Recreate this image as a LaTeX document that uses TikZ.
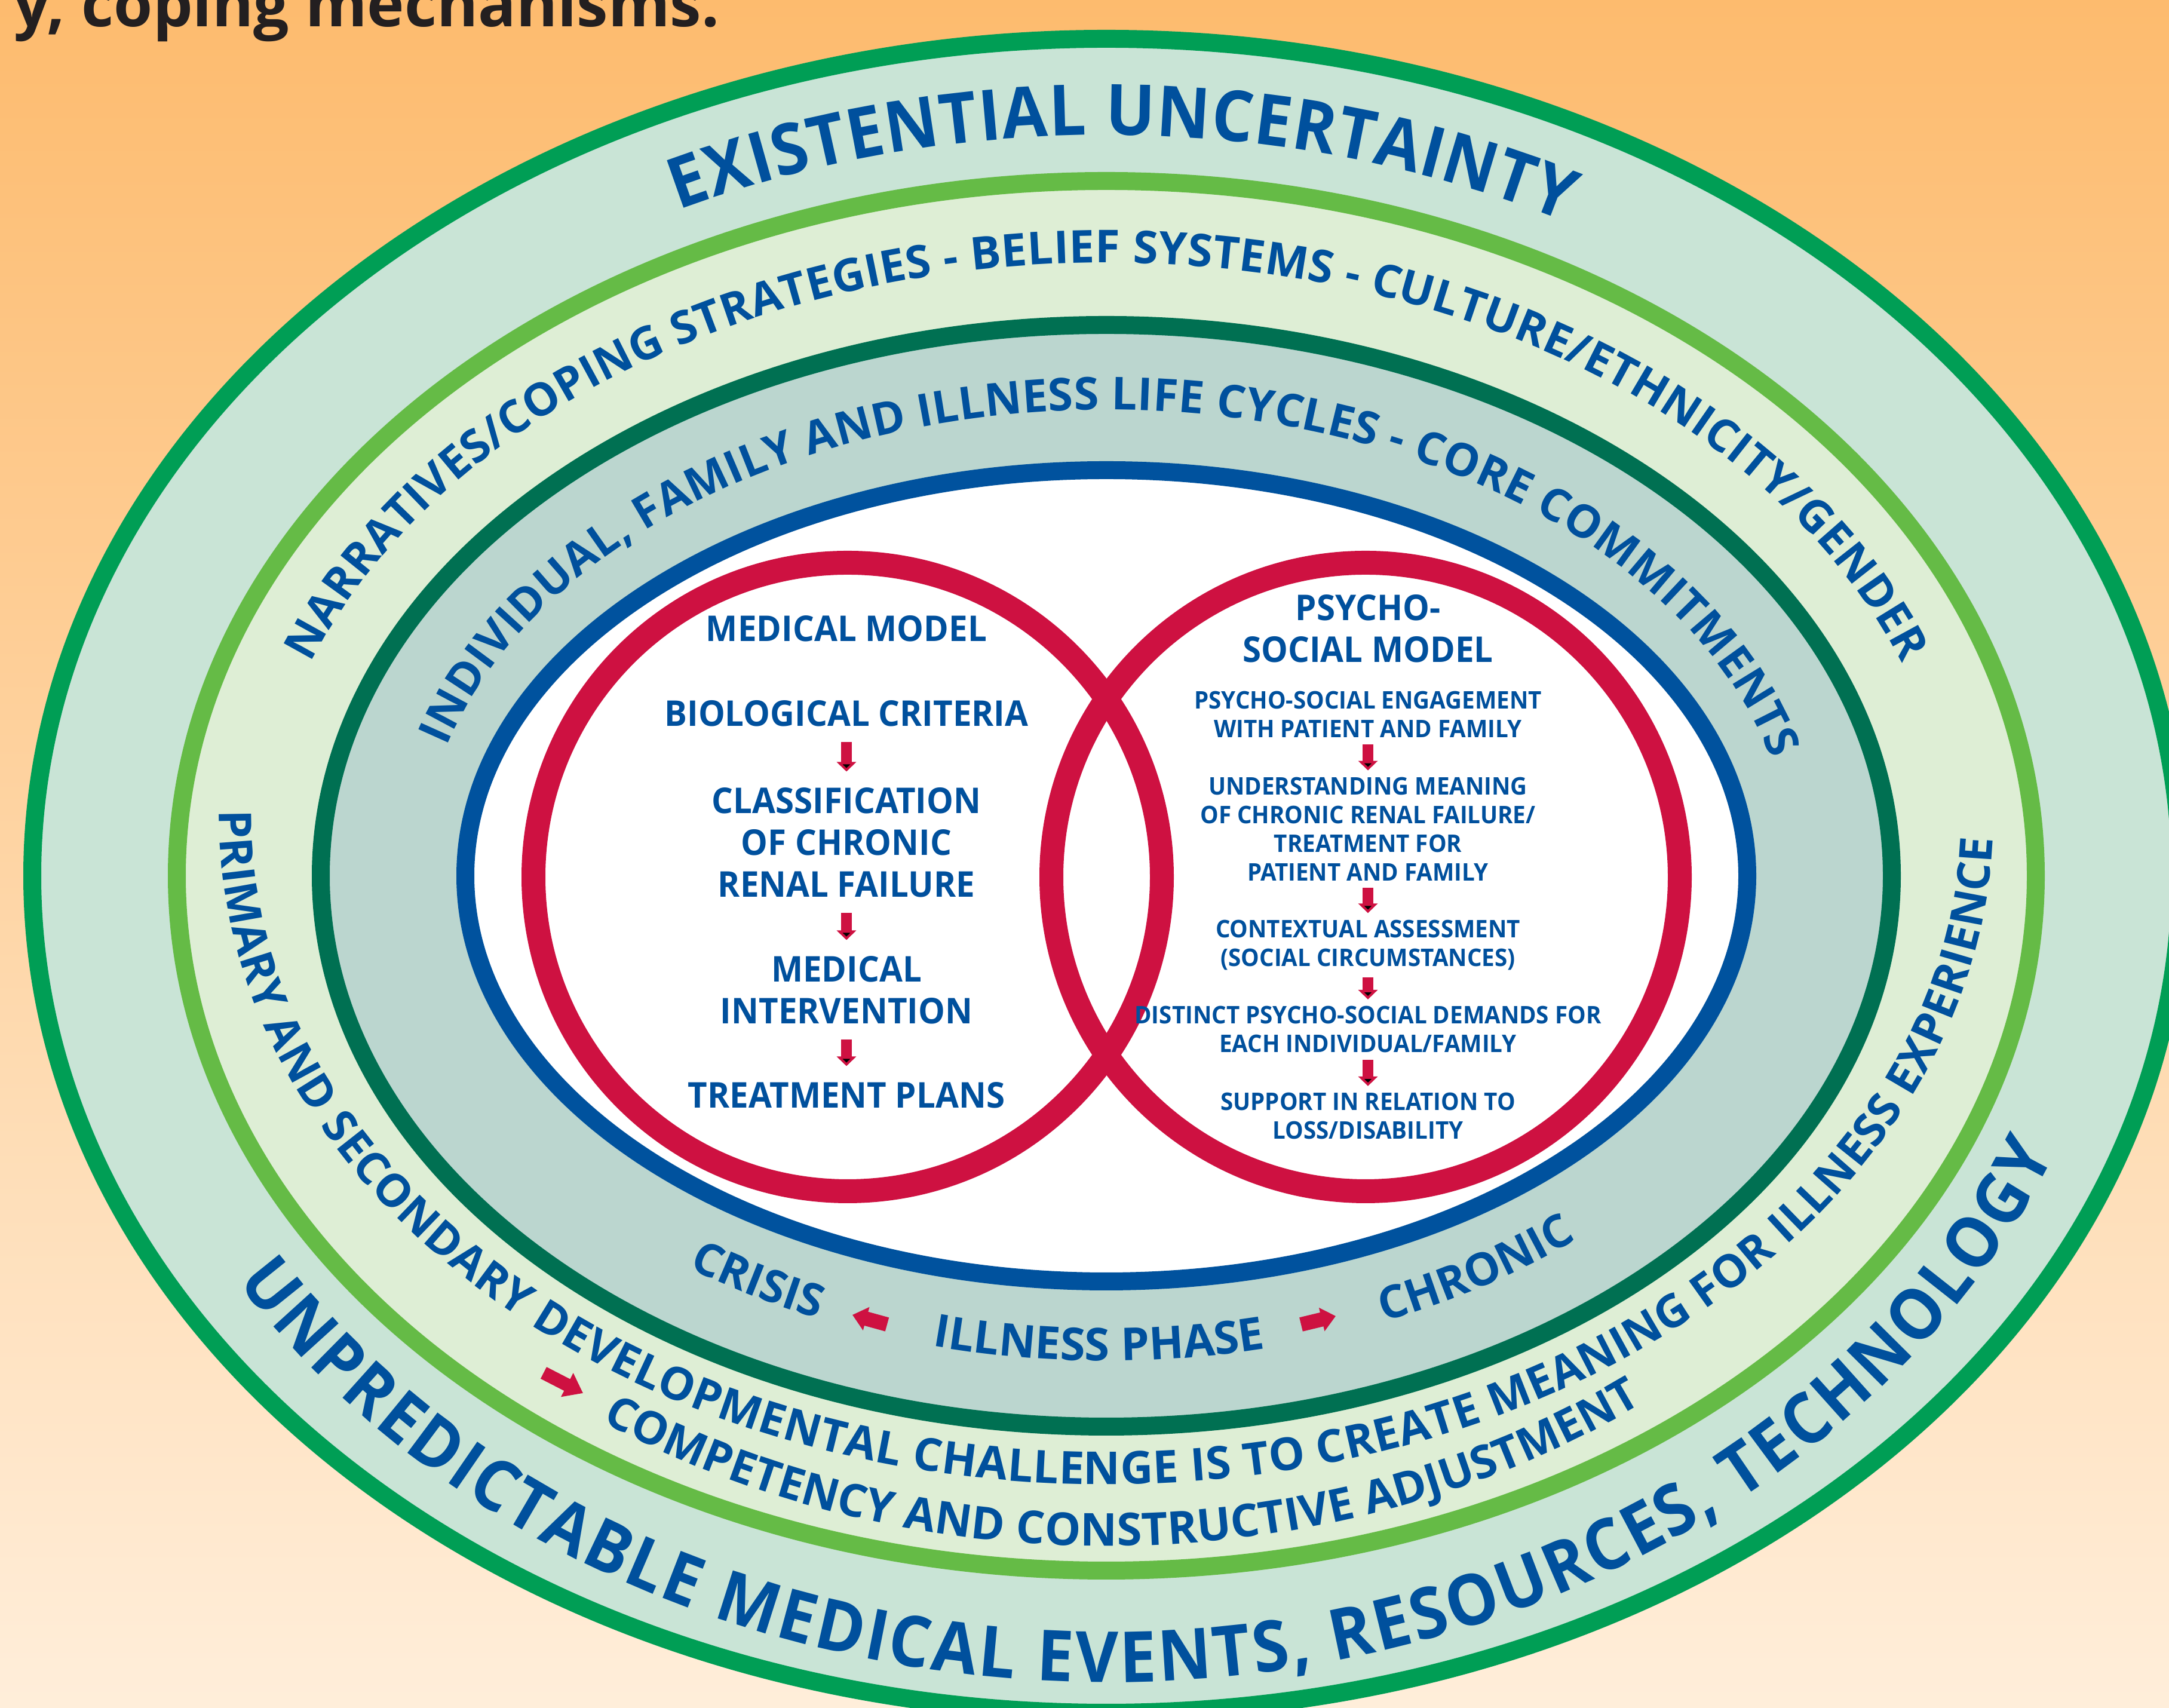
\documentclass[tikz,border=0pt]{standalone}
\usepackage{fontspec}
\setmainfont{Open Sans}[FakeStretch=0.95]
\newfontfamily\arcwide{Open Sans}
\newfontfamily\arcnarrow{Open Sans}[FakeStretch=0.93]
\usetikzlibrary{arrows.meta,positioning,decorations.text}
\definecolor{bgtop}{RGB}{253,187,110}
\definecolor{bgbot}{RGB}{255,238,218}
\definecolor{bandouter}{RGB}{201,228,214}
\definecolor{bandmid}{RGB}{222,238,213}
\definecolor{bandinner}{RGB}{187,214,207}
\definecolor{ringouter}{RGB}{0,158,85}
\definecolor{ringmid}{RGB}{101,187,70}
\definecolor{ringinner}{RGB}{0,112,82}
\definecolor{ringblue}{RGB}{0,82,158}
\definecolor{circred}{RGB}{206,17,65}
\definecolor{txtblue}{RGB}{0,80,157}
\definecolor{capdark}{RGB}{35,31,32}
\newcommand\arcbig{\arcnarrow\fontsize{33.6}{40}\selectfont\bfseries}
\newcommand\arcmid{\arcwide\fontsize{21.6}{26}\selectfont\bfseries}

\begin{document}
\begin{tikzpicture}[
  every node/.style={
    text=txtblue,
    font=\bfseries,
    inner sep=0pt,
    align=center
  },
  titletext/.style={font=\fontsize{16.9}{19.9}\selectfont\bfseries, inner ysep=2.6mm},
  smalltext/.style={font=\fontsize{11.55}{13.66}\selectfont\bfseries, inner ysep=1.1mm},
  >={Triangle[width=3.2mm,length=1.6mm]}, %block arrow tips
  ring/.style={line width=3mm},
  redring/.style={draw=circred, line width=4mm},
  flow/.style={draw=circred, line width=1.8mm, ->},
  phaseflow/.style={draw=circred, line width=2.4mm, -{Triangle[width=3.9mm,length=2.4mm]}},
  arctext/.style={decorate, decoration={text along path, text align=fit to path,
    text color=txtblue, text={#1}}}
  ]
\useasboundingbox (0,0) rectangle (36.31,28.59);
\clip (0,0) rectangle (36.31,28.59);
\shade[top color=bgtop, bottom color=bgbot] (0,0) rectangle (36.31,28.59);

% rings
\coordinate (C) at (18.52,13.93);
\filldraw[ring, fill=bandouter, draw=ringouter] (C) ellipse[x radius=17.98, y radius=14.01];
\filldraw[ring, fill=bandmid, draw=ringmid] (C) ellipse[x radius=15.56, y radius=11.63];
\filldraw[ring, fill=bandinner, draw=ringinner] (C) ellipse[x radius=13.15, y radius=9.22];
\filldraw[ring, fill=white, draw=ringblue] (C) ellipse[x radius=10.73, y radius=6.79];
\draw[redring] (14.19,13.91) circle[radius=5.26];
\draw[redring] (22.86,13.91) circle[radius=5.26];

% texts on the upper arcs
\begin{scope}[shift={(18.52,13.93)}]
  \path[arctext={|\arcbig|EXISTENTIAL UNCERTAINTY}]
    (116:16.35 and 12.40) arc[start angle=116, end angle=62, x radius=16.35, y radius=12.40];
  \path[arctext={|\arcmid|NARRATIVES/COPING STRATEGIES - BELIEF SYSTEMS - CULTURE/ETHNICITY/GENDER}]
    (159.7:14.20 and 10.26) arc[start angle=159.7, end angle=20.3, x radius=14.20, y radius=10.26];
  \path[arctext={|\arcmid|INDIVIDUAL, FAMILY AND ILLNESS LIFE CYCLES - CORE COMMITMENTS}]
    (163.9:11.50 and 7.80) arc[start angle=163.9, end angle=14.5, x radius=11.50, y radius=7.80];
\end{scope}

% texts on the lower arcs
\begin{scope}[shift={(18.52,14.93)}]
  \path[arctext={|\arcbig|UNPREDICTABLE MEDICAL EVENTS, RESOURCES, TECHNOLOGY}]
    (212.5:17.25 and 14.50) arc[start angle=212.5, end angle=337, x radius=17.25, y radius=14.50];
  \path[arctext={|\arcmid|PRIMARY AND SECONDARY DEVELOPMENTAL CHALLENGE IS TO CREATE MEANING FOR ILLNESS EXPERIENCE}]
    (179.5:14.85 and 11.19) arc[start angle=179.5, end angle=358, x radius=14.85, y radius=11.19];
  \path[arctext={|\arcmid|COMPETENCY AND CONSTRUCTIVE ADJUSTMENT}]
    (236:15.10 and 12.22) arc[start angle=236, end angle=306.4, x radius=15.10, y radius=12.22];
  \path[arctext={|\arcmid|CRISIS}]
    (236:12.50 and 9.12) arc[start angle=236, end angle=247, x radius=12.50, y radius=9.12];
  \path[arctext={|\arcmid|ILLNESS PHASE}]
    (256.5:12.50 and 9.12) arc[start angle=256.5, end angle=281.6, x radius=12.50, y radius=9.12];
  \path[arctext={|\arcmid|CHRONIC}]
    (291.8:12.50 and 9.12) arc[start angle=291.8, end angle=309, x radius=12.50, y radius=9.12];
\end{scope}

% red arrows beside the phase words
\coordinate (crisisTail) at (14.85,6.42);
\coordinate (crisisTip) at (14.27,6.58);
\coordinate (chronicTail) at (21.78,6.42);
\coordinate (chronicTip) at (22.36,6.56);
\coordinate (competTail) at (9.10,5.61);
\coordinate (competTip) at (9.76,5.27);
\draw[phaseflow] (crisisTail) -- (crisisTip);
\draw[phaseflow] (chronicTail) -- (chronicTip);
\draw[phaseflow, line width=2.2mm, -{Triangle[width=4.3mm,length=3mm]}] (competTail) -- (competTip);

% caption cut at the top
\node[anchor=base east, text=capdark, font=\arcwide\fontsize{30}{34}\selectfont\bfseries] (caption)
  at (12.05,28.14) {y, coping mechanisms.};

\begin{scope}[every node/.append style={titletext}]
  \node (medmodel) at (14.17,18.07) {MEDICAL MODEL};
  \node (biocrit) at (14.17,16.65) {BIOLOGICAL CRITERIA};
  \node (classif) at (14.17,14.49) {CLASSIFICATION\\OF CHRONIC\\RENAL FAILURE};
  \node (medint) at (14.17,12.02) {MEDICAL\\INTERVENTION};
  \node (treat) at (14.17,10.26) {TREATMENT PLANS};
  \node (psymodel) at (22.90,18.07) {PSYCHO-\\SOCIAL MODEL};
\end{scope}
\begin{scope}[every node/.append style={smalltext}]
  \node (engage) at (22.90,16.635) {PSYCHO-SOCIAL ENGAGEMENT\\WITH PATIENT AND FAMILY};
  \node (meaning) at (22.90,14.71) {UNDERSTANDING MEANING\\OF CHRONIC RENAL FAILURE/\\TREATMENT FOR\\PATIENT AND FAMILY};
  \node (context) at (22.90,12.77) {CONTEXTUAL ASSESSMENT\\(SOCIAL CIRCUMSTANCES)};
  \node (demands) at (22.90,11.355) {DISTINCT PSYCHO-SOCIAL DEMANDS FOR\\EACH INDIVIDUAL/FAMILY};
  \node (support) at (22.90,9.905) {SUPPORT IN RELATION TO\\LOSS/DISABILITY};
\end{scope}
\path[flow] (biocrit) edge (classif)
            (classif) edge (medint)
            (medint)  edge (treat);
\path[flow] (engage)  edge (meaning)
            (meaning) edge (context)
            (context) edge (demands)
            (demands) edge (support);
\end{tikzpicture}
\end{document}
